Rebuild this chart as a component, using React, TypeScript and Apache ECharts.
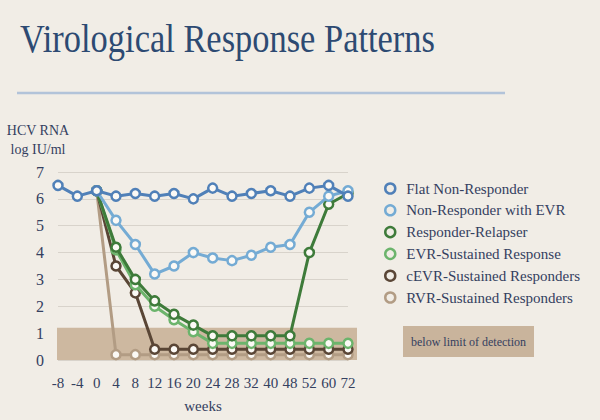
import React, { useEffect, useRef } from "react";
import * as echarts from "echarts";

const weeks = ["-8", "-4", "0", "4", "8", "12", "16", "20", "24", "28", "32", "40", "48", "52", "60", "72"];
const yTicks = [0, 1, 2, 3, 4, 5, 6, 7];

const flatNonResponder = [6.5, 6.1, 6.3, 6.1, 6.2, 6.1, 6.2, 6.0, 6.4, 6.1, 6.2, 6.3, 6.1, 6.4, 6.5, 6.1];
const nonResponderEVR = [null, null, 6.3, 5.2, 4.3, 3.2, 3.5, 4.0, 3.8, 3.7, 3.9, 4.2, 4.3, 5.5, 6.1, 6.3];
const responderRelapser = [null, null, 6.3, 4.2, 3.0, 2.2, 1.7, 1.3, 0.9, 0.9, 0.9, 0.9, 0.9, 4.0, 5.8, 6.2];
const evrSustained = [null, null, 6.3, 4.1, 2.8, 2.0, 1.5, 1.05, 0.62, 0.62, 0.62, 0.62, 0.62, 0.62, 0.62, 0.62];
const cevrSustained = [null, null, 6.3, 3.5, 2.5, 0.4, 0.4, 0.4, 0.4, 0.4, 0.4, 0.4, 0.4, 0.4, 0.4, 0.4];
const rvrSustained = [null, null, 6.3, 0.2, 0.2, 0.2, 0.2, 0.2, 0.2, 0.2, 0.2, 0.2, 0.2, 0.2, 0.2, 0.2];

const detectionLimit = [0, 1.2];

const seriesDefs = [
  { name: "Flat Non-Responder", data: flatNonResponder, color: "#5080b8" },
  { name: "Non-Responder with EVR", data: nonResponderEVR, color: "#74abd4" },
  { name: "Responder-Relapser", data: responderRelapser, color: "#3e7b3a" },
  { name: "EVR-Sustained Response", data: evrSustained, color: "#6cb46c" },
  { name: "cEVR-Sustained Responders", data: cevrSustained, color: "#5a4636" },
  { name: "RVR-Sustained Responders", data: rvrSustained, color: "#b29c84" },
];

const BG = "#f1ede6";
const TEXT = "#34405f";
const FONT = "'Liberation Serif', 'DejaVu Serif', serif";

export default function App() {
  const ref = useRef<HTMLDivElement>(null);
  useEffect(() => {
    document.body.style.margin = "0";
    if (!ref.current) return;
    const chart = echarts.init(ref.current, null, { renderer: "svg" });
    const drawOrder = [...seriesDefs].reverse();
    const series: any[] = drawOrder.map((s, i) => ({
      name: s.name,
      type: "line",
      data: s.data,
      symbol: "circle",
      symbolSize: 9,
      connectNulls: false,
      lineStyle: { color: s.color, width: 3 },
      itemStyle: { color: "#fbf9f5", borderColor: s.color, borderWidth: 2.5 },
      z: 3 + i,
    }));
    const staticGraphic: any[] = [
      {
        type: "text",
        left: 20,
        top: 17,
        scaleX: 0.84,
        style: { text: "Virological Response Patterns", fill: "#2d4a72", font: "41px 'Liberation Serif', serif" },
      },
      {
        type: "line",
        shape: { x1: 17, y1: 93, x2: 505, y2: 93 },
        style: { stroke: "#b2c3d9", lineWidth: 2.5 },
      },
      {
        type: "text",
        x: 38,
        y: 121,
        style: {
          text: "HCV RNA\nlog IU/ml",
          fill: TEXT,
          font: "14px 'Liberation Serif', serif",
          align: "center",
          lineHeight: 19,
        },
      },
      {
        type: "group",
        left: 403,
        top: 326,
        children: [
          { type: "rect", shape: { x: 0, y: 0, width: 131, height: 31 }, style: { fill: "#c9b49c" } },
          {
            type: "text",
            x: 65.5,
            y: 15.5,
            style: {
              text: "below limit of detection",
              fill: TEXT,
              font: "12px 'Liberation Serif', serif",
              align: "center",
              verticalAlign: "middle",
            },
          },
        ],
      },
    ];
    chart.setOption({
      animation: false,
      backgroundColor: BG,
      textStyle: { fontFamily: FONT },
      grid: { left: 58, right: 252, top: 172, bottom: 60 },
      legend: {
        orient: "vertical",
        left: 379,
        top: 176,
        itemWidth: 10,
        itemHeight: 10,
        itemGap: 6.8,
        icon: "circle",
        textStyle: { fontFamily: FONT, fontSize: 15, color: TEXT, padding: [0, 0, 0, 6] },
        data: seriesDefs.map((s) => ({
          name: s.name,
          icon: "circle",
          itemStyle: { color: BG, borderColor: s.color, borderWidth: 2.5 },
        })),
      },
      xAxis: {
        type: "category",
        data: weeks,
        boundaryGap: false,
        axisLine: { show: false },
        axisTick: { show: false },
        axisLabel: { color: TEXT, fontSize: 15, fontFamily: FONT, margin: 15, interval: 0 },
        name: "weeks",
        nameLocation: "middle",
        nameGap: 38,
        nameTextStyle: { color: TEXT, fontSize: 15, fontFamily: FONT },
      },
      yAxis: {
        type: "value",
        min: yTicks[0],
        max: yTicks[yTicks.length - 1],
        interval: 1,
        axisLine: { show: false },
        axisTick: { show: false },
        axisLabel: { color: TEXT, fontSize: 16, fontFamily: FONT, margin: 14 },
        splitLine: { lineStyle: { color: "#d8d3cb", width: 1 } },
      },
      graphic: staticGraphic,
      series,
    });
    // detection-limit band, positioned from the axes
    const pLow = chart.convertToPixel({ xAxisIndex: 0, yAxisIndex: 0 }, [weeks[0], detectionLimit[0]]) as number[];
    const pHigh = chart.convertToPixel({ xAxisIndex: 0, yAxisIndex: 0 }, [weeks[weeks.length - 1], detectionLimit[1]]) as number[];
    chart.setOption({
      graphic: [
        ...staticGraphic,
        {
          type: "rect",
          z: 1,
          shape: { x: pLow[0] - 1, y: pHigh[1], width: pHigh[0] - pLow[0] + 10, height: pLow[1] - pHigh[1] },
          style: { fill: "#cdb8a0" },
        },
      ],
    }, { replaceMerge: ["graphic"] });
    return () => chart.dispose();
  }, []);
  return <div ref={ref} style={{ width: 600, height: 420 }} />;
}
